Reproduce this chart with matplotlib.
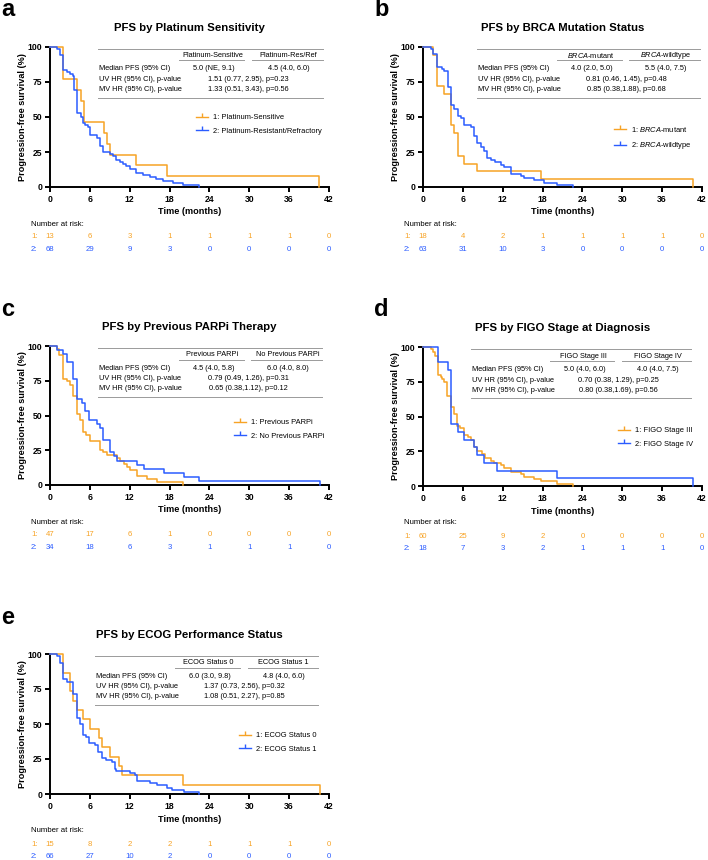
import matplotlib.pyplot as plt
from matplotlib.lines import Line2D
from matplotlib.transforms import blended_transform_factory

plt.rcParams['font.family'] = ['Liberation Sans', 'DejaVu Sans']
plt.rcParams['mathtext.fontset'] = 'custom'
plt.rcParams['mathtext.rm'] = 'Liberation Sans'
plt.rcParams['mathtext.it'] = 'Liberation Sans:italic'

ORANGE = '#F7A325'
BLUE = '#2B5CFF'
W, H = 708, 860

# --- data (time in months, survival in %) ---
months = [0, 6, 12, 18, 24, 30, 36, 42]
row_names = ['Median PFS (95% CI)', 'UV HR (95% CI), p-value', 'MV HR (95% CI), p-value']

# a: platinum sensitivity
a_t1 = [0, 2.0, 4.1, 4.6, 5.1, 8.1, 8.6, 9.1, 13.0, 17.6, 40.5]
a_s1 = [100, 76.9, 69.2, 61.5, 46.2, 38.5, 30.8, 23.1, 15.4, 7.7, 0]
a_t2 = [0, 1.0, 1.5, 2.0, 2.5, 3.0, 3.4, 3.6, 4.1, 4.6, 4.9, 5.3, 5.7, 6.0, 7.0, 7.5,
        8.0, 9.0, 9.5, 10.0, 10.5, 11.0, 11.5, 12.0, 13.0, 14.0, 15.0, 16.0, 17.0, 18.5, 20.0, 22.5]
a_s2 = [100, 98.5, 94.1, 83.8, 82.4, 80.9, 79.4, 69.1, 52.9, 50.0, 45.6, 44.1, 42.6, 36.8, 35.3, 29.4,
        25.0, 23.5, 22.1, 19.1, 17.6, 16.2, 14.7, 13.2, 10.3, 8.8, 7.4, 5.9, 4.4, 2.9, 1.5, 0]
a_labels = ['1: Platinum-Sensitive', '2: Platinum-Resistant/Refractory']
a_heads = ['Platinum-Sensitive', 'Platinum-Res/Ref']
a_median = ['5.0 (NE, 9.1)', '4.5 (4.0, 6.0)']
a_uv = '1.51 (0.77, 2.95), p=0.23'
a_mv = '1.33 (0.51, 3.43), p=0.56'
a_risk1 = [13, 6, 3, 1, 1, 1, 1, 0]
a_risk2 = [68, 29, 9, 3, 0, 0, 0, 0]

# b: BRCA status
b_t1 = [0, 1.5, 2.15, 3.2, 4.2, 4.6, 5.2, 6.2, 8.2, 17.7, 40.6]
b_s1 = [100, 94.4, 72.2, 66.7, 44.4, 38.9, 22.2, 16.7, 11.1, 5.6, 0]
b_t2 = [0, 1.2, 1.5, 2.15, 2.8, 3.2, 3.7, 4.2, 4.7, 5.2, 5.7, 6.2, 7.2, 7.7, 8.2, 8.7, 9.2, 9.7,
        10.2, 10.9, 11.7, 12.2, 13.2, 14.7, 15.2, 16.7, 18.2, 20.2, 22.6]
b_s2 = [100, 98.4, 95.2, 85.7, 84.1, 82.5, 71.4, 58.7, 55.6, 50.8, 49.2, 44.4, 42.9, 36.5, 31.7, 28.6,
        25.4, 20.6, 19.0, 17.5, 15.9, 14.3, 9.5, 7.9, 6.3, 4.8, 3.2, 1.6, 0]
b_labels = [r'1: $\mathit{BRCA}$-mutant', r'2: $\mathit{BRCA}$-wildtype']
b_heads = [r'$\mathit{BRCA}$-mutant', r'$\mathit{BRCA}$-wildtype']
b_median = ['4.0 (2.0, 5.0)', '5.5 (4.0, 7.5)']
b_uv = '0.81 (0.46, 1.45), p=0.48'
b_mv = '0.85 (0.38,1.88), p=0.68'
b_risk1 = [18, 4, 2, 1, 1, 1, 1, 0]
b_risk2 = [63, 31, 10, 3, 0, 0, 0, 0]

# c: previous PARPi
c_t1 = [0, 1.0, 1.4, 2.0, 2.5, 3.0, 3.5, 4.1, 4.5, 4.9, 5.4, 6.0, 7.5, 8.0, 8.6, 10.1,
        10.6, 11.1, 11.6, 12.1, 13.1, 14.6, 16.1, 20.0]
c_s1 = [100, 97.9, 93.6, 76.6, 74.5, 72.3, 63.8, 51.1, 46.8, 38.3, 36.2, 31.9, 25.5, 23.4, 21.3, 19.1,
        17.0, 14.9, 12.8, 10.6, 6.4, 4.3, 2.1, 0]
c_t2 = [0, 1.0, 2.0, 2.5, 3.4, 4.0, 4.8, 5.3, 5.9, 7.0, 7.5, 8.0, 9.1, 9.6, 10.1, 13.1, 14.1,
        17.1, 20.1, 22.5, 40.6]
c_s2 = [100, 97.1, 94.1, 88.2, 76.5, 61.8, 58.8, 52.9, 47.1, 44.1, 41.2, 32.4, 23.5, 20.6, 17.6, 14.7,
        11.8, 8.8, 5.9, 2.9, 0]
c_labels = ['1: Previous PARPi', '2: No Previous PARPi']
c_heads = ['Previous PARPi', 'No Previous PARPi']
c_median = ['4.5 (4.0, 5.8)', '6.0 (4.0, 8.0)']
c_uv = '0.79 (0.49, 1.26), p=0.31'
c_mv = '0.65 (0.38,1.12), p=0.12'
c_risk1 = [47, 17, 6, 1, 0, 0, 0, 0]
c_risk2 = [34, 18, 6, 3, 1, 1, 1, 0]

# d: FIGO stage
d_t1 = [0, 1.2, 1.5, 1.8, 2.2, 2.7, 2.9, 3.2, 3.6, 4.2, 4.6, 5.1, 5.6, 6.1, 6.7, 7.2, 7.7, 8.2,
        8.9, 9.4, 10.2, 10.7, 11.7, 12.2, 13.2, 14.7, 15.2, 16.7, 17.7, 20.2, 22.6]
d_s1 = [100, 98.3, 96.7, 93.3, 80.0, 78.3, 76.7, 75.0, 65.0, 56.7, 51.7, 43.3, 41.7, 36.7, 35.0, 33.3,
        28.3, 25.0, 23.3, 20.0, 18.3, 16.7, 15.0, 13.3, 10.0, 8.3, 6.7, 5.0, 3.3, 1.7, 0]
d_t2 = [0, 2.2, 3.8, 4.2, 5.2, 6.2, 7.7, 8.2, 9.2, 11.2, 20.2, 40.7]
d_s2 = [100, 88.9, 83.3, 44.4, 38.9, 33.3, 27.8, 22.2, 16.7, 11.1, 5.6, 0]
d_labels = ['1: FIGO Stage III', '2: FIGO Stage IV']
d_heads = ['FIGO Stage III', 'FIGO Stage IV']
d_median = ['5.0 (4.0, 6.0)', '4.0 (4.0, 7.5)']
d_uv = '0.70 (0.38, 1.29), p=0.25'
d_mv = '0.80 (0.38,1.69), p=0.56'
d_risk1 = [60, 25, 9, 2, 0, 0, 0, 0]
d_risk2 = [18, 7, 3, 2, 1, 1, 1, 0]

# e: ECOG status
e_t1 = [0, 2.0, 3.0, 3.5, 4.0, 5.0, 6.0, 7.4, 7.9, 9.0, 10.4, 10.9, 20.0, 40.6]
e_s1 = [100, 86.7, 73.3, 66.7, 60.0, 53.3, 46.7, 40.0, 33.3, 26.7, 20.0, 13.3, 6.7, 0]
e_t2 = [0, 1.0, 1.5, 2.0, 2.5, 3.5, 4.0, 4.5, 4.9, 5.4, 5.9, 6.8, 7.3, 7.8, 8.5, 9.3, 9.8, 10.0,
        12.0, 12.8, 13.1, 15.1, 16.1, 17.6, 18.3, 20.1, 22.5]
e_s2 = [100, 98.5, 93.9, 81.8, 80.3, 71.2, 54.5, 50.0, 42.4, 40.9, 36.4, 34.8, 30.3, 25.8, 24.2, 22.7,
        18.2, 16.7, 15.2, 13.6, 9.1, 7.6, 6.1, 4.5, 3.0, 1.5, 0]
e_labels = ['1: ECOG Status 0', '2: ECOG Status 1']
e_heads = ['ECOG Status 0', 'ECOG Status 1']
e_median = ['6.0 (3.0, 9.8)', '4.8 (4.0, 6.0)']
e_uv = '1.37 (0.73, 2.56), p=0.32'
e_mv = '1.08 (0.51, 2.27), p=0.85'
e_risk1 = [15, 8, 2, 2, 1, 1, 1, 0]
e_risk2 = [66, 27, 10, 2, 0, 0, 0, 0]

fig = plt.figure(figsize=(W / 100, H / 100), dpi=100)


def km_panel(box, letter, title, t1, s1, t2, s2, labels, heads, median, uv, mv,
             risk1, risk2, tbl_x, leg_xy):
    l, t, r, b = box
    ax = fig.add_axes([l / W, 1 - b / H, (r - l) / W, (b - t) / H])
    axh = b - t

    ax.step(t1, s1, where='post', color=ORANGE, lw=1.1, clip_on=False, zorder=3)
    ax.step(t2, s2, where='post', color=BLUE, lw=1.1, clip_on=False, zorder=3)

    ax.set_xlim(0, 42)
    ax.set_ylim(0, 100)
    ax.set_xticks(months)
    ax.set_yticks([0, 25, 50, 75, 100])
    for s in ['top', 'right']:
        ax.spines[s].set_visible(False)
    for s in ['left', 'bottom']:
        ax.spines[s].set_linewidth(1.4)
    ax.tick_params(width=1.4, length=3.5, labelsize=6.2, pad=2)
    for lab in ax.get_xticklabels() + ax.get_yticklabels():
        lab.set_fontweight('bold')

    ax.text(0.5, 1 + 19 / axh, title, transform=ax.transAxes, ha='center', va='center',
            fontsize=8.2, fontweight='bold')
    ax.text(-27 / (r - l), 0.5, 'Progression-free survival (%)', transform=ax.transAxes,
            rotation=90, ha='center', va='center', fontsize=6.6, fontweight='bold')
    ax.text(0.5, -25 / axh, 'Time (months)', transform=ax.transAxes, ha='center',
            va='center', fontsize=6.6, fontweight='bold')
    fig.text((l - 49) / W, 1 - (t - 37) / H, letter, fontsize=17, fontweight='bold',
             ha='left', va='center')

    # summary table
    x0, x1 = tbl_x
    tw = x1 - x0
    fy = lambda p: 1 - p / axh
    kw = dict(transform=ax.transAxes, clip_on=False, color='#9a9a9a', lw=0.7)
    ax.plot([x0, x1], [fy(2), fy(2)], **kw)
    ax.plot([x0, x1], [fy(51), fy(51)], **kw)
    ax.plot([x0 + 0.36 * tw, x0 + 0.65 * tw], [fy(13.5), fy(13.5)], **kw)
    ax.plot([x0 + 0.685 * tw, x1], [fy(13.5), fy(13.5)], **kw)
    fs = 5.35
    ax.text(x0 + 0.51 * tw, fy(9), heads[0], transform=ax.transAxes, ha='center', va='center', fontsize=fs)
    ax.text(x0 + 0.847 * tw, fy(9), heads[1], transform=ax.transAxes, ha='center', va='center', fontsize=fs)
    rows_y = [fy(22), fy(33), fy(43)]
    for name, yy in zip(row_names, rows_y):
        ax.text(x0 + 0.005 * tw, yy, name, transform=ax.transAxes, ha='left', va='center', fontsize=fs)
    ax.text(x0 + 0.515 * tw, rows_y[0], median[0], transform=ax.transAxes, ha='center', va='center', fontsize=fs)
    ax.text(x0 + 0.847 * tw, rows_y[0], median[1], transform=ax.transAxes, ha='center', va='center', fontsize=fs)
    ax.text(x0 + 0.67 * tw, rows_y[1], uv, transform=ax.transAxes, ha='center', va='center', fontsize=fs)
    ax.text(x0 + 0.67 * tw, rows_y[2], mv, transform=ax.transAxes, ha='center', va='center', fontsize=fs)

    # legend (line with a small upward censor tick)
    handles = [Line2D([], [], color=ORANGE, lw=1.0, marker=2, markersize=3),
               Line2D([], [], color=BLUE, lw=1.0, marker=2, markersize=3)]
    ax.legend(handles, labels, loc='upper left', bbox_to_anchor=leg_xy, frameon=False,
              fontsize=5.4, handlelength=1.6, handletextpad=0.65, labelspacing=0.85,
              borderpad=0, borderaxespad=0)

    # number at risk
    tr = blended_transform_factory(ax.transData, ax.transAxes)
    lx = -0.068
    rfs = 5.6
    ax.text(lx, -37 / axh, 'Number at risk:', transform=ax.transAxes, ha='left', va='center', fontsize=rfs)
    for k, (risk, col) in enumerate([(risk1, ORANGE), (risk2, BLUE)]):
        yy = -(50 + 12.8 * k) / axh
        ax.text(lx, yy, f'{k + 1}:', transform=ax.transAxes, ha='left', va='center',
                fontsize=rfs, color=col)
        for m, n in zip(months, risk):
            ax.text(m, yy, str(n), transform=tr, ha='center', va='center', fontsize=rfs, color=col)
    return ax


km_panel((50, 47, 329, 187), 'a', 'PFS by Platinum Sensitivity', a_t1, a_s1, a_t2, a_s2,
         a_labels, a_heads, a_median, a_uv, a_mv, a_risk1, a_risk2, (0.172, 0.978), (0.522, 0.52))
km_panel((423, 47, 702, 187), 'b', 'PFS by BRCA Mutation Status', b_t1, b_s1, b_t2, b_s2,
         b_labels, b_heads, b_median, b_uv, b_mv, b_risk1, b_risk2, (0.192, 0.992), (0.685, 0.442))
km_panel((50, 346, 329, 485), 'c', 'PFS by Previous PARPi Therapy', c_t1, c_s1, c_t2, c_s2,
         c_labels, c_heads, c_median, c_uv, c_mv, c_risk1, c_risk2, (0.172, 0.975), (0.66, 0.474))
km_panel((423, 347, 702, 486), 'd', 'PFS by FIGO Stage at Diagnosis', d_t1, d_s1, d_t2, d_s2,
         d_labels, d_heads, d_median, d_uv, d_mv, d_risk1, d_risk2, (0.172, 0.962), (0.70, 0.424))
km_panel((50, 654, 329, 794), 'e', 'PFS by ECOG Performance Status', e_t1, e_s1, e_t2, e_s2,
         e_labels, e_heads, e_median, e_uv, e_mv, e_risk1, e_risk2, (0.161, 0.96), (0.678, 0.442))

fig.savefig('out.png', dpi=100)
